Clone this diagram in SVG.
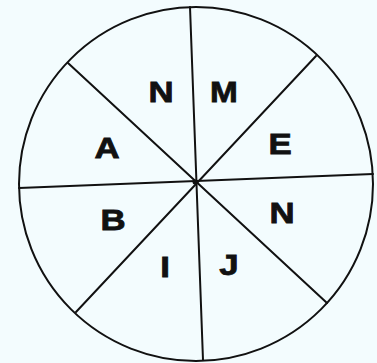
<svg xmlns="http://www.w3.org/2000/svg" width="377" height="363" viewBox="0 0 377 363">
<style>
.ln{stroke:#111;stroke-width:2;fill:none;stroke-linecap:round}
.lb{font-family:"Liberation Sans",Arial,sans-serif;font-weight:bold;font-size:29px;fill:#111;stroke:#111;stroke-width:0.8;text-anchor:middle;dominant-baseline:central}
</style>
<rect width="377" height="363" fill="#f3fcfe"/>
<g id="circle"><circle cx="196" cy="184" r="177" class="ln"/></g>
<g id="connectors">
<line class="ln" x1="190" y1="7" x2="203" y2="360"/>
<line class="ln" x1="19" y1="188" x2="373" y2="174"/>
<line class="ln" x1="68" y1="63" x2="327" y2="303"/>
<line class="ln" x1="316" y1="56" x2="76" y2="312"/>
<circle cx="195" cy="182" r="2.5" fill="#111"/>
</g>
<g id="n1" transform="translate(161,92) scale(1.2,1)"><text class="lb">N</text></g>
<g id="m" transform="translate(224,92) scale(1.15,1)"><text class="lb">M</text></g>
<g id="e" transform="translate(280,144) scale(1.2,1)"><text class="lb">E</text></g>
<g id="n2" transform="translate(282,213) scale(1.2,1)"><text class="lb">N</text></g>
<g id="j" transform="translate(229,265) scale(1.2,1)"><text class="lb">J</text></g>
<g id="i" transform="translate(165,267) scale(1.2,1)"><text class="lb">I</text></g>
<g id="b" transform="translate(113,220) scale(1.2,1)"><text class="lb">B</text></g>
<g id="a" transform="translate(107,148) scale(1.2,1)"><text class="lb">A</text></g>
</svg>
